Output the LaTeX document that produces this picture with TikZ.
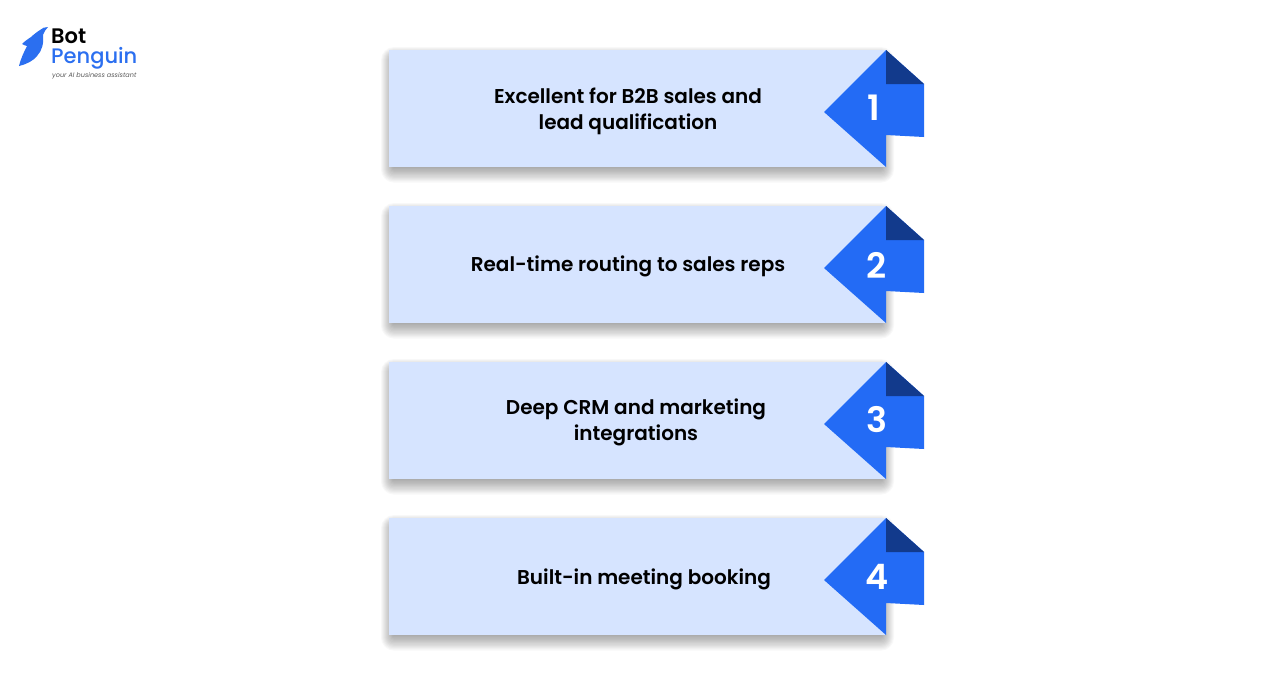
\documentclass[tikz,border=0pt]{standalone}
\usepackage{fontspec}
\setmainfont{Poppins}
\newfontfamily\logofont{Poppins Medium}
\newfontfamily\cardfont{Poppins SemiBold}
\usetikzlibrary{positioning}
\definecolor{cardblue}{HTML}{D6E4FF}
\definecolor{tagblue}{HTML}{236BF5}
\definecolor{folddark}{HTML}{123A8C}
\definecolor{logoblue}{HTML}{2B6FF0}

\begin{document}
\begin{tikzpicture}[x=1pt,y=-1pt,
  card text/.style={font=\fontsize{20}{26}\cardfont,align=center,text=black},
  tag number/.style={font=\fontsize{35}{35}\cardfont,text=white},
  logo text/.style={inner sep=0pt,anchor=west}]

  \useasboundingbox (0,0) rectangle (1288,686);
  \fill[white] (0,0) rectangle (1288,686);

  % the four cards
  \foreach \y in {0,156,312,468} {
    \foreach \g in {1,2,...,13}
      \fill[black,opacity=0.028,rounded corners=\g pt]
        (389+5-\g,50+\y+10-\g) rectangle (886-5+\g,167+\y+1.2*\g);
    \fill[cardblue] (389,50+\y) rectangle (886,167+\y);
    \fill[tagblue] (824,112+\y) -- (886,50+\y) -- (924,84+\y) -- (924,137+\y)
      -- (886,135+\y) -- (886,167+\y) -- cycle;
    \fill[folddark] (886,50+\y) -- (924,84+\y) -- (886,84+\y) -- cycle;
  }

  \node[card text] (text1) at (628,111) {Excellent for B2B sales and\\lead qualification};
  \node[card text] (text2) at (628,266) {Real-time routing to sales reps};
  \node[card text] (text3) at (636,422) {Deep CRM and marketing\\integrations};
  \node[card text] (text4) at (644,579) {Built-in meeting booking};

  \node[tag number] (num1) at (874,108) {1};
  \node[tag number] (num2) at (877,265) {2};
  \node[tag number] (num3) at (877,420) {3};
  \node[tag number] (num4) at (877,577) {4};

  % logo
  \fill[logoblue] (48,27) .. controls (45,27) and (42,28) .. (40,30)
    .. controls (37,32) and (33,35) .. (31,37)
    .. controls (28,39) and (25,41) .. (22,44)
    .. controls (24,45) and (26,46) .. (27,46)
    .. controls (24,52) and (21,58) .. (19,66)
    .. controls (27,64) and (33,61) .. (37,56)
    .. controls (42,51) and (44,43) .. (43,35)
    .. controls (44,32) and (46,29) .. (48,27) -- cycle;
  \node[logo text,text=black,font=\fontsize{21}{21}\cardfont] (bot) at (51,36) {Bot};
  \node[logo text,text=logoblue,font=\fontsize{21}{21}\logofont] (penguin) at (51,58) {Penguin};
  \node[logo text,text=black!65,font=\fontsize{6.5}{7}\selectfont\itshape] (tagline) at (52,76) {your AI business assistant};

\end{tikzpicture}
\end{document}
